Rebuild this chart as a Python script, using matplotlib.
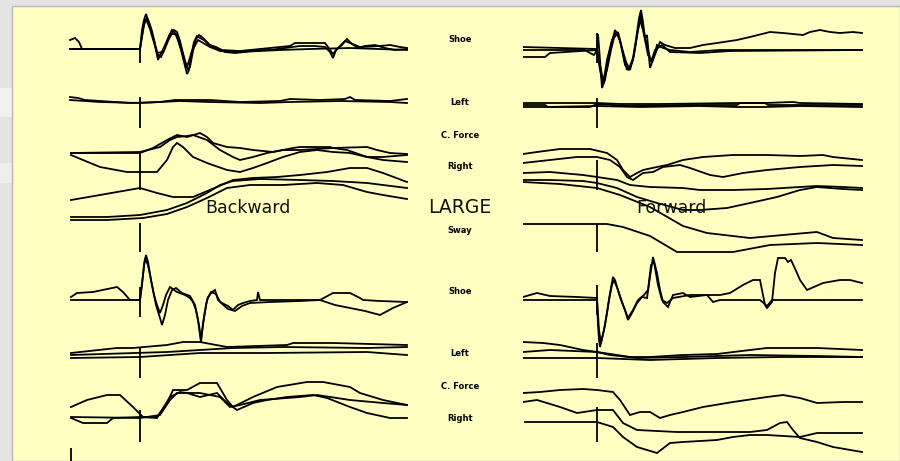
import numpy as np
import matplotlib
matplotlib.use("Agg")
import matplotlib.pyplot as plt
from matplotlib.patches import Rectangle

FS = 135.0  # samples per second; sample 0 = perturbation onset

# Each trace: list of (sample index from onset, amplitude in counts)

# ---------------- Backward, upper block ----------------
bw_shoe1_a = [(-70, 0), (0, 0), (2, 19), (4, 29), (6, 35), (8, 29), (10, 23), (12, 14), (14, 9),
              (16, -1), (18, -11), (20, -6), (23, -1), (26, 5), (29, 13), (32, 19), (35, 16),
              (38, 9), (41, -1), (44, -13), (47, -25), (49, -21), (51, -7), (54, 7), (57, 13),
              (60, 11), (64, 9), (68, 5), (72, 3), (78, 0), (85, -3), (95, -4), (105, -3),
              (115, -1), (130, -1), (145, 1), (160, 3), (175, 3), (185, 2), (190, -3), (193, -9),
              (196, -1), (202, 4), (207, 10), (212, 5), (218, 1), (225, 3), (235, 4), (245, 1),
              (255, -1), (267, 0)]
bw_shoe1_b = [(-70, 9), (-65, 11), (-61, 7), (-58, 0), (0, 0), (3, 20), (5, 28), (7, 31), (9, 27),
              (12, 18), (15, 5), (18, -6), (21, -8), (24, -2), (28, 8), (31, 14), (34, 19), (37, 17),
              (40, 8), (43, -4), (46, -16), (48, -21), (50, -18), (53, -2), (56, 10), (59, 14),
              (62, 12), (66, 8), (70, 4), (76, 2), (82, -1), (100, -2), (120, 0), (150, 3), (155, 6),
              (185, 6), (188, 2), (193, -5), (197, 0), (205, 8), (210, 6), (220, 2), (240, 3),
              (250, 4), (260, 2), (267, 1)]
bw_shoe1_c = [(-70, 0), (0, 0), (4, 24), (6, 30), (10, 20), (17, -4), (22, -3), (30, 15), (36, 15),
              (42, -3), (47, -18), (52, -2), (58, 9), (70, 2), (80, -2), (100, -3), (140, -1),
              (170, 0), (210, 1), (267, -1)]

bw_left1_a = [(-70, 4), (-62, 3), (-55, 1), (-40, 0), (-10, -2), (20, -1), (35, 1), (70, 1), (100, -1),
              (140, 0), (150, 2), (180, 1), (205, 2), (210, 4), (215, 1), (250, 0), (267, 2)]
bw_left1_b = [(-70, 1), (-40, -1), (0, -2), (40, 0), (70, -1), (120, -2), (150, -1), (200, 0),
              (250, -1), (267, -2)]

bw_force1_a = [(-69, 0), (0, 0), (13, 5), (27, 13), (37, 18), (47, 16), (60, 20), (67, 16), (73, 10),
               (87, 6), (100, 5), (113, 3), (133, 1), (153, 5), (160, 6), (190, 6), (193, 5),
               (227, 6), (237, 3), (250, 0), (267, -1)]
bw_force1_b = [(-69, 0), (0, 1), (20, 6), (30, 13), (37, 16), (47, 17), (53, 18), (67, 13), (80, 3),
               (93, -4), (100, -7), (113, -4), (127, 0), (143, 3), (160, 3), (193, 5), (207, 3),
               (227, -4), (243, -7), (267, -9)]
bw_force1_c = [(-69, -2), (-57, -7), (-40, -14), (-13, -19), (17, -19), (27, -7), (33, 6), (37, 10),
               (43, 6), (53, -4), (67, -10), (87, -17), (100, -19), (113, -15), (127, -10),
               (143, -4), (160, 1), (177, 3), (193, 1), (210, 0), (227, -4), (243, -4), (267, -2)]
bw_right1_a = [(-69, -47), (-40, -42), (0, -35), (17, -40), (33, -44), (53, -44), (77, -34),
               (93, -27), (113, -25), (137, -24), (160, -22), (187, -19), (210, -15), (227, -15),
               (243, -20), (267, -29)]
bw_right1_b = [(-69, -64), (-33, -64), (0, -62), (27, -57), (47, -50), (67, -40), (80, -32),
               (93, -28), (120, -26), (160, -27), (193, -28), (227, -30), (267, -35)]
bw_right1_c = [(-69, -67), (-33, -67), (3, -65), (27, -61), (47, -54), (67, -45), (87, -35),
               (110, -32), (143, -32), (177, -30), (203, -32), (227, -39), (243, -42), (267, -46)]

# ---------------- Forward, upper block ----------------
fw_shoe1_a = [(-74, 0), (-12, 0), (-7, -3), (-3, -5), (0, 0), (1, 16), (3, -10), (5, -38), (8, -30),
              (11, -12), (14, 5), (18, 20), (21, 15), (24, 5), (27, -8), (30, -20), (33, -16),
              (36, -8), (39, 10), (42, 32), (44, 40), (46, 28), (48, 12), (50, 15), (53, -18),
              (56, -10), (60, 5), (66, 2), (73, 0), (93, -2), (123, 0), (203, 0), (265, 0)]
fw_shoe1_b = [(-74, 3), (-37, 2), (0, 1), (3, -15), (6, -30), (10, -20), (14, 0), (17, 12), (21, 18),
              (25, 2), (29, -12), (33, -20), (37, -5), (41, 20), (44, 36), (47, 15), (51, -5),
              (55, -12), (59, -2), (63, 8), (68, 5), (78, 2), (93, 2), (106, 5), (120, 7), (140, 10),
              (153, 13), (173, 18), (186, 17), (206, 15), (213, 18), (223, 20), (233, 18),
              (243, 17), (256, 18), (265, 17)]
fw_shoe1_c = [(-74, -7), (-52, -7), (-47, -3), (0, 0), (3, -20), (6, -35), (10, -10), (15, 10),
              (19, 17), (23, 10), (28, -15), (32, -20), (36, -10), (40, 15), (43, 30), (46, 20),
              (50, 5), (54, -12), (58, 0), (65, 5), (73, -2), (103, -3), (133, -1), (265, 0)]

fw_left1_a = [(-74, 2), (-52, 2), (0, 2), (23, 1), (63, 1), (140, 2), (168, 2), (196, 3), (203, 2),
              (265, 1)]
fw_left1_b = [(-74, -2), (-52, -2), (0, -1), (43, -2), (103, -1), (140, -2), (168, -2), (203, -1),
              (265, -2)]
fw_left1_c = [(-74, 0), (-52, 0), (-49, -2), (-7, -2), (0, 1), (33, -1), (83, 0), (140, 0), (143, 2),
              (168, 2), (171, 0), (265, 0)]

fw_force1_a = [(-74, -1), (-60, 1), (-37, 4), (-7, 4), (10, 0), (20, -7), (26, -17), (33, -24),
               (40, -20), (46, -17), (60, -14), (70, -12), (86, -7), (106, -4), (136, -2),
               (170, -2), (203, -3), (226, -2), (236, -4), (265, -7)]
fw_force1_b = [(-74, -10), (-47, -7), (-20, -4), (0, -4), (13, -7), (23, -14), (30, -24), (36, -27),
               (46, -20), (56, -19), (66, -14), (83, -12), (93, -15), (113, -22), (126, -24),
               (146, -20), (170, -17), (203, -14), (236, -12), (265, -13)]
fw_force1_c = [(-74, -20), (-47, -19), (-14, -22), (0, -24), (20, -27), (33, -32), (53, -34),
               (86, -35), (103, -37), (136, -37), (170, -36), (203, -34), (220, -33), (246, -34),
               (265, -35)]
fw_right1_a = [(-74, -27), (-47, -27), (-14, -28), (0, -30), (20, -35), (40, -44), (60, -50),
               (86, -57), (103, -57), (130, -55), (153, -50), (180, -44), (203, -37), (220, -34),
               (246, -36), (265, -37)]
fw_right1_b = [(-74, -29), (-37, -31), (0, -35), (23, -42), (53, -54), (86, -73), (110, -80),
               (153, -85), (186, -82), (220, -79), (236, -85), (265, -87)]
fw_sway1 = [(-74, -71), (10, -71), (26, -74), (53, -83), (80, -99), (136, -99), (173, -92),
            (220, -90), (265, -92)]

# ---------------- Backward, lower block ----------------
bw_shoe2_a = [(-69, 0), (0, 0), (2, 15), (4, 35), (6, 45), (8, 38), (11, 20), (14, 5), (17, -5),
              (20, -13), (23, -5), (26, 5), (30, 13), (34, 10), (37, 8), (45, 5), (50, 2), (53, -2),
              (56, -10), (58, -20), (60, -35), (61, -42), (63, -23), (66, -5), (68, 3), (72, 8),
              (75, 10), (78, 0), (82, -3), (88, -6), (93, -10), (98, -5), (103, -3), (110, -1),
              (117, 0), (118, 8), (120, 0), (150, 0), (180, 0), (193, 7), (210, 7), (220, 2),
              (223, 0), (240, -1), (267, -2)]
bw_shoe2_b = [(-69, 3), (-63, 7), (-47, 8), (-23, 13), (-17, 8), (-10, 0), (0, 0), (3, 25), (5, 42),
              (8, 35), (12, 15), (16, -5), (20, -18), (22, -25), (25, -15), (28, 0), (32, 10),
              (36, 12), (42, 7), (50, 4), (55, -5), (59, -25), (61, -40), (64, -18), (67, 0),
              (71, 8), (76, 6), (80, -2), (88, -9), (95, -11), (102, -6), (110, -3), (130, -2),
              (160, -1), (180, 0), (195, -5), (210, -8), (225, -11), (240, -15), (253, -8),
              (267, -2)]

bw_left2_a = [(-69, -3), (-23, 2), (-7, 2), (27, 5), (43, 8), (60, 8), (87, 3), (147, 5), (153, 7),
              (193, 7), (267, 5)]
bw_left2_b = [(-69, -5), (27, -2), (93, 2), (143, 3), (227, 2), (267, 3)]
bw_left2_c = [(-69, -8), (0, -7), (60, -3), (127, -3), (227, -2), (267, -5)]

bw_force2_a = [(-69, -7), (-53, 0), (-33, 5), (-20, 5), (-7, -7), (3, -17), (17, -17), (27, -3),
               (33, 10), (47, 10), (60, 17), (77, 17), (87, 0), (93, -7), (113, 3), (137, 13),
               (167, 18), (183, 18), (210, 13), (220, 7), (243, 0), (267, -5)]
bw_force2_b = [(-69, -18), (-57, -23), (-33, -23), (-27, -18), (0, -17), (17, -18), (30, 3),
               (40, 8), (47, 7), (60, 3), (77, 7), (87, -3), (97, -10), (113, -3), (127, 0),
               (147, 3), (173, 5), (187, 2), (210, -7), (227, -13), (250, -18), (267, -18)]
bw_force2_c = [(-69, -17), (0, -18), (20, -15), (30, 0), (37, 7), (60, 7), (80, 3), (90, -7),
               (100, -5), (120, 0), (160, 3), (177, 5), (210, 0), (243, -3), (267, -5)]

# ---------------- Forward, lower block ----------------
fw_shoe2_a = [(-74, 0), (0, 0), (1, -25), (2, -40), (3, -47), (7, -30), (10, -13), (13, 7), (16, 23),
              (18, 20), (23, 3), (28, -10), (31, -20), (35, -13), (40, -3), (45, 3), (50, 2),
              (53, 23), (56, 43), (60, 27), (63, 10), (66, -2), (71, -7), (76, 5), (86, 7), (93, 3),
              (110, 5), (116, -2), (123, 0), (163, 0), (170, -6), (175, 0), (265, 0)]
fw_shoe2_b = [(-74, 3), (-60, 7), (-47, 4), (-20, 3), (0, 2), (2, -30), (4, -43), (8, -25), (12, 0),
              (15, 15), (17, 20), (21, 10), (26, -5), (31, -18), (36, -10), (41, 0), (47, 5),
              (51, 10), (54, 35), (57, 38), (61, 15), (65, 0), (70, -3), (76, 2), (93, 5), (123, 5),
              (133, 7), (146, 15), (156, 20), (163, 20), (168, -5), (170, -8), (175, -2), (178, 27),
              (181, 42), (188, 42), (191, 38), (194, 40), (200, 27), (203, 20), (210, 10),
              (226, 17), (243, 20), (253, 20), (265, 17)]

fw_left2_a = [(-74, 8), (-54, 7), (-37, 5), (-14, 0), (0, -2), (20, -5), (33, -7), (53, -7),
              (86, -5), (120, -4), (153, 0), (170, 2), (220, 2), (265, 0)]
fw_left2_b = [(-74, -2), (-47, 0), (0, -2), (13, -5), (40, -8), (86, -7), (153, -5), (220, -6),
              (265, -7)]
fw_left2_c = [(-74, -8), (0, -8), (53, -10), (120, -8), (186, -7), (265, -7)]

fw_force2_a = [(-74, 7), (-57, 8), (-37, 10), (-14, 11), (0, 10), (16, 8), (23, 0), (33, -15),
               (43, -12), (53, -12), (63, -18), (73, -15), (86, -12), (106, -7), (136, -2),
               (170, 3), (186, 5), (203, 2), (220, -3), (246, -2), (265, -2)]
fw_force2_b = [(-74, -2), (-60, 0), (-37, -7), (-20, -13), (0, -10), (16, -10), (26, -23),
               (40, -30), (80, -32), (120, -32), (153, -32), (170, -30), (183, -23), (190, -22),
               (196, -30), (203, -38), (220, -42), (236, -47), (265, -52)]
fw_force2_c = [(-72, -22), (-47, -22), (0, -22), (16, -27), (26, -37), (40, -47), (60, -53),
               (73, -43), (86, -42), (120, -40), (136, -37), (153, -35), (170, -35), (203, -37),
               (220, -33), (265, -33)]

# Onset markers: (high, low) in counts relative to each block's baseline
bw_markers = {"shoe1": (2, -14), "left1": (4, -27), "force1": (1, -37), "sway1": (-70, -99),
              "shoe2": (13, -17), "left2": (2, -28), "force2": (-10, -42)}
fw_markers = {"shoe1": (17, -13), "left1": (7, -23), "force1": (-7, -37), "sway1": (-71, -99),
              "shoe2": (15, -15), "left2": (7, -28), "force2": (-7, -42)}

row_labels = ["Shoe", "Left", "C. Force", "Right", "Sway", "Shoe", "Left", "C. Force", "Right"]

# ---------------- layout ----------------
W, H = 900, 461
BW_BASE = {"shoe1": 49, "left1": 101, "force1": 153, "sway1": 153,
           "shoe2": 300, "left2": 350, "force2": 400}
FW_BASE = {"shoe1": 50, "left1": 105, "force1": 153, "sway1": 153,
           "shoe2": 300, "left2": 350, "force2": 400}
LABEL_Y = [39, 102, 136, 166, 230, 292, 353, 386, 418]

bw_rows = {
    "shoe1": [bw_shoe1_a, bw_shoe1_b, bw_shoe1_c],
    "left1": [bw_left1_a, bw_left1_b],
    "force1": [bw_force1_a, bw_force1_b, bw_force1_c, bw_right1_a, bw_right1_b, bw_right1_c],
    "shoe2": [bw_shoe2_a, bw_shoe2_b],
    "left2": [bw_left2_a, bw_left2_b, bw_left2_c],
    "force2": [bw_force2_a, bw_force2_b, bw_force2_c],
}
fw_rows = {
    "shoe1": [fw_shoe1_a, fw_shoe1_b, fw_shoe1_c],
    "left1": [fw_left1_a, fw_left1_b, fw_left1_c],
    "force1": [fw_force1_a, fw_force1_b, fw_force1_c, fw_right1_a, fw_right1_b, fw_sway1],
    "shoe2": [fw_shoe2_a, fw_shoe2_b],
    "left2": [fw_left2_a, fw_left2_b, fw_left2_c],
    "force2": [fw_force2_a, fw_force2_b, fw_force2_c],
}

YELLOW = "#FFFFC2"
fig = plt.figure(figsize=(W / 100, H / 100), dpi=100, facecolor="#E4E4E4")

# window frame and panel, kept beneath the trace axes
for y0, y1, col in [(88, 117, "#F1F1F1"), (163, 183, "#EEEEEE")]:
    fig.add_artist(Rectangle((0, 1 - y1 / H), 12 / W, (y1 - y0) / H, transform=fig.transFigure,
                             facecolor=col, edgecolor="none", zorder=-10))
fig.add_artist(Rectangle((12 / W, 0), 1 - 12 / W, 1 - 6 / H, transform=fig.transFigure,
                         facecolor=YELLOW, edgecolor="#B8B8B8", linewidth=1.0, zorder=-9))

LW = 1.3


def make_axes(left_px):
    ax = fig.add_axes([left_px / W, 0, 344.25 / W, 1])
    ax.set_xlim(-0.55, 2.0)
    ax.set_ylim(-H, 0)
    ax.axis("off")
    ax.patch.set_alpha(0)
    ax.set_zorder(2)
    return ax


def draw_block(ax, rows, bases, markers):
    for key, traces in rows.items():
        for tr in traces:
            n, c = np.array(tr, dtype=float).T
            ax.plot(n / FS, c - bases[key], color="black", lw=LW, solid_joinstyle="miter")
    for key, (hi, lo) in markers.items():
        ax.vlines(0, lo - bases[key], hi - bases[key], color="black", lw=LW)


ax_bw = make_axes(140 - 0.55 * FS)
ax_fw = make_axes(597 - 0.55 * FS)
draw_block(ax_bw, bw_rows, BW_BASE, bw_markers)
draw_block(ax_fw, fw_rows, FW_BASE, fw_markers)

# short trace start at the lower edge
ax_bw.vlines(-69 / FS, -461, -448, color="black", lw=LW)

for lab, ypx in zip(row_labels, LABEL_Y):
    fig.text(460 / W, 1 - ypx / H, lab, ha="center", va="center", fontsize=6,
             fontweight="bold", family="DejaVu Sans")

fig.text(460 / W, 1 - 207 / H, "LARGE", ha="center", va="center", fontsize=13.5,
         family="DejaVu Sans", color="#111111")
fig.text(248 / W, 1 - 208 / H, "Backward", ha="center", va="center", fontsize=12.5,
         family="DejaVu Sans", color="#111111")
fig.text(671 / W, 1 - 208 / H, "Forward", ha="center", va="center", fontsize=12.5,
         family="DejaVu Sans", color="#111111")

fig.savefig("out.png", dpi=100, facecolor=fig.get_facecolor())
